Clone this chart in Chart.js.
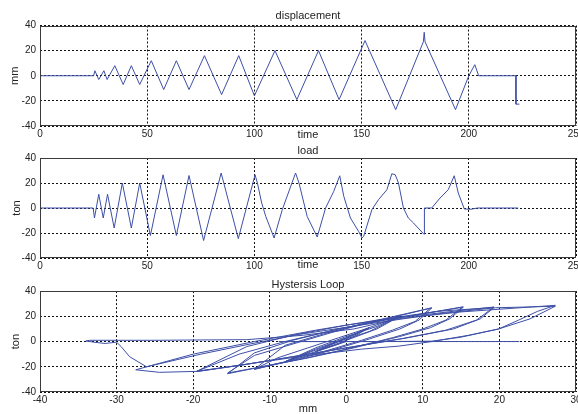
<!DOCTYPE html>
<html>
<head>
<meta charset="utf-8">
<script src="https://cdn.jsdelivr.net/npm/chart.js@4.4.1/dist/chart.umd.min.js"></script>
<style>
  html, body { margin: 0; padding: 0; background: #fff; overflow: hidden; }
  body { width: 578px; height: 414px; position: relative; }
  canvas { position: absolute; left: 0; }
</style>
</head>
<body>
<canvas id="disp" width="600" height="142" style="top:0px"></canvas>
<canvas id="load" width="600" height="132" style="top:140px"></canvas>
<canvas id="hyst" width="600" height="148" style="top:268px"></canvas>
<script>
// displacement vs time (mm)
const dispTime = [0, 25, 25.6, 27.4, 29.8, 31.3, 34.9, 38.8, 42.6, 46.5, 51.9, 57.7, 63.6, 69.5,
  76.7, 84.7, 92.7, 100, 109.6, 119.8, 129.9, 139.5, 151.6, 165.9, 178.8, 179.2, 179.6,
  193.8, 200, 202.8, 204.6, 222, 222, 223.6]
const dispVal = [0, 0, 4, -3, 4, -3, 8, -7, 8, -7, 12, -11, 12, -11,
  16, -15, 16, -16, 20, -19, 20, -19, 28, -27, 27, 34.6, 27,
  -27, 0, 8.8, 0, 0, -22.6, -22.6]

// load vs time (ton)
const loadTime = [0, 24.8, 25.4, 27.4, 29.5, 31.5, 34.6, 38.4, 42.6, 46.5, 51.5, 57.4, 63.6, 69.5,
  76.3, 84.5, 92.5, 100.3, 101.4, 103.4, 105.3, 109.2, 113, 119.2, 120.8, 124.6, 129.3,
  133.2, 137, 139.8, 141.7, 144.8, 148.6, 150.2, 151, 154.8, 157.9, 161.8, 164.1, 165.7,
  167.2, 169.5, 171.8, 174.2, 178.8, 179.2, 179.3, 182.7, 186.6, 190.4, 193.2, 195.1,
  197.9, 201, 204, 223]
const loadVal = [0, 0, -8, 11, -8, 11, -16, 20, -16, 20, -22, 26.6, -22, 26,
  -26, 28, -24.5, 26.6, 20, 4, -6.7, -24, -1.3, 28, 20, -6.7, -23.2,
  0, 13.3, 25.8, 9.3, -8, -18.7, -24, -22.5, -1.3, 6.7, 14.6, 27.4, 26.6,
  20, 0, -8, -12, -20.5, -21, 0, 0, 8, 14.6, 25.8, 12,
  -0.8, -1, 0, 0]

// hysteresis loop: mm vs ton, traced in drawing order
const hystX = [0, -2, -4, -1, 1, 3, 1, -1, -4, -2, 0, 3, 0,
  -4, -8, -5, -1, 3, 7, 4, 0, -4, -8, -4, 0, 4, 7, 3, -1,
  -5, -9, -12, -8, -3, 2, 6, 9, 11, 7, 2, -3, -8, -12, -7, -2, 3, 7, 9.5, 11.2, 8, 3, -2,
  -7, -12, -15.5, -12, -6, 0, 6, 10, 13, 15.2, 11, 5, -1, -7, -12, -15.5, -11, -5, 1, 7, 11, 13.5, 15.3, 11, 5, -1,
  -8, -14, -19.6, -14, -7, 0, 7, 13, 17, 19.3, 14, 7, 0, -7, -13, -19.5, -13, -6, 1, 8, 14, 17.5, 19.3,
  12, 4, -4, -12, -20, -27.5,
  -24.4, -19.3, -12, -5, 2, 6.9, 11.2, 16, 19.9, 24, 27.3,
  23, 19.5, 12, 4, -6.1, -12.6, -19, -26.1,
  -28.3, -29.4, -30, -31.5, -33, -34, -33.5,
  -25, -13, -5.6, 1, 6.9, 15, 22, 27.3,
  25, 22.5, 19.9, 15, 11.2, 5, -8.8, 0, 22.6]
const hystY = [0, -4, -8, 0, 5, 11, 4, -2, -8, -2, 3, 11, 3,
  -6, -16, -9, 0, 8, 20, 12, 4, -5, -16, -8, 1, 10, 20, 11, 3,
  -5, -13, -22, -16, -8, 1, 9, 16, 26.5, 21, 14, 6, -3, -22, -15, -7, 2, 10, 17, 26.8, 22, 15, 7,
  -2, -11, -25, -21, -14, -6, 3, 10, 17, 27.5, 23, 17, 10, 1, -9, -25.5, -20, -13, -5, 4, 11, 18, 27.3, 23, 17, 10,
  0, -10, -23.8, -19, -12, -5, 2, 9, 17, 27.4, 24, 19, 13, 5, -4, -23.5, -18, -11, -4, 3, 10, 18, 27,
  24, 17, 9, 0, -10, -22.4,
  -24.4, -23.6, -17, -11, -6, -3.6, 0, 5, 10, 18, 28,
  27.3, 26.8, 22, 15, 5.7, -2, -10, -20,
  -12, -4, -0.5, -1.5, -0.5, 0.5, 1,
  1, 1.5, 5, 10, 18.2, 23.5, 26.5, 28.7,
  24, 17, 10, 3.5, 0.3, 0, 0, 0, 0]

const yTicks = [-40, -20, 0, 20, 40]

const lineColor = '#3d4fa6'
const textColor = '#222'
const fontFamily = '"Liberation Sans", Arial, sans-serif'

// box around the plot area, like matlab axes
const framePlugin = {
  id: 'frame',
  afterDraw (chart) {
    const { ctx, chartArea: a } = chart
    ctx.save()
    ctx.strokeStyle = '#3a3a3a'
    ctx.lineWidth = 1
    const l = Math.round(a.left) + 0.5
    const t = Math.round(a.top) + 0.5
    const r = Math.round(a.right) - 0.5
    const b = Math.round(a.bottom) - 0.5
    ctx.strokeRect(l, t, r - l, b - t)
    ctx.restore()
  }
}

function makeChart (id, opts) {
  const points = opts.xs.map((x, i) => ({ x, y: opts.ys[i] }))
  const ctx = document.getElementById(id)
  return new Chart(ctx, {
    type: 'scatter',
    data: {
      datasets: [{
        data: points,
        showLine: true,
        borderColor: lineColor,
        borderWidth: 1,
        pointRadius: 0,
        tension: 0
      }]
    },
    options: {
      responsive: false,
      animation: false,
      devicePixelRatio: 1,
      layout: { padding: { left: 0, right: 24, top: 0, bottom: 0 } },
      plugins: {
        legend: { display: false },
        tooltip: { enabled: false },
        title: {
          display: true,
          text: opts.title,
          fullSize: false,
          color: textColor,
          font: { family: fontFamily, size: 11, weight: 'normal' },
          padding: opts.titlePad
        }
      },
      scales: {
        x: {
          type: 'linear',
          min: opts.xMin,
          max: opts.xMax,
          border: { display: false, dash: [2, 2] },
          grid: { color: '#111', lineWidth: 1, drawTicks: false },
          ticks: {
            stepSize: opts.xStep,
            padding: 2,
            color: textColor,
            maxRotation: 0,
            font: { family: fontFamily, size: 10 }
          },
          title: {
            display: true,
            text: opts.xLabel,
            color: textColor,
            padding: { top: 0, bottom: 0 },
            font: { family: fontFamily, size: 11 }
          },
          afterFit: s => { s.height = opts.xAxisH }
        },
        y: {
          min: -40,
          max: 40,
          border: { display: false, dash: [2, 2] },
          grid: { color: '#111', lineWidth: 1, drawTicks: false },
          afterBuildTicks: s => { s.ticks = yTicks.map(v => ({ value: v })) },
          ticks: {
            padding: 4,
            color: textColor,
            font: { family: fontFamily, size: 10 }
          },
          title: {
            display: true,
            text: opts.yLabel,
            color: textColor,
            padding: { top: opts.yTitlePad, bottom: 0 },
            font: { family: fontFamily, size: 11 }
          },
          afterFit: s => { s.width = 40 }
        }
      }
    },
    plugins: [framePlugin]
  })
}

makeChart('disp', {
  title: 'displacement', titlePad: { top: 8.9, bottom: 3.4 },
  xLabel: 'time', xMin: 0, xMax: 250, xStep: 50, xAxisH: 16,
  yLabel: 'mm', yTitlePad: 8.2,
  xs: dispTime, ys: dispVal
})

makeChart('load', {
  title: 'load', titlePad: { top: 4.4, bottom: 0.4 },
  xLabel: 'time', xMin: 0, xMax: 250, xStep: 50, xAxisH: 14,
  yLabel: 'ton', yTitlePad: 10.4,
  xs: loadTime, ys: loadVal
})

makeChart('hyst', {
  title: 'Hystersis Loop', titlePad: { top: 9.9, bottom: 0 },
  xLabel: 'mm', xMin: -40, xMax: 30, xStep: 10, xAxisH: 24,
  yLabel: 'ton', yTitlePad: 9.4,
  xs: hystX, ys: hystY
})
</script>
</body>
</html>
